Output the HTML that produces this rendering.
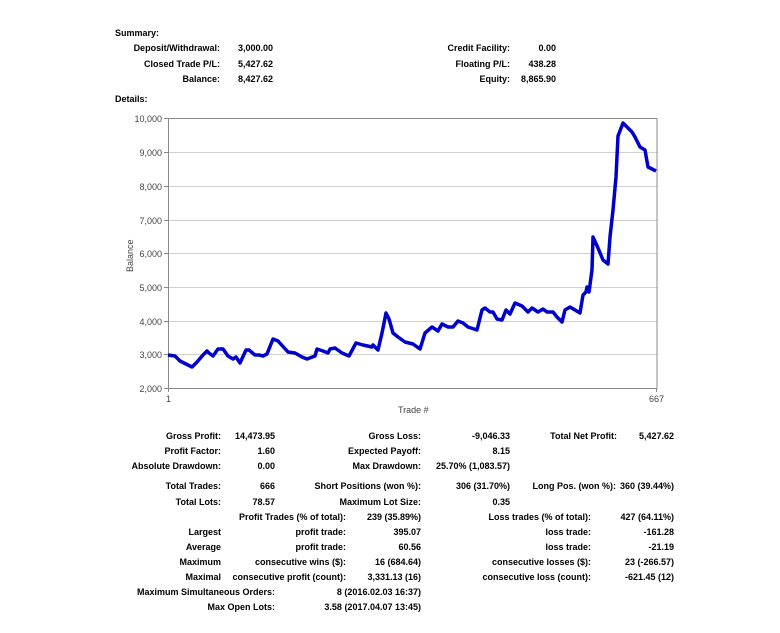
<!DOCTYPE html>
<html><head><meta charset="utf-8"><style>
body{margin:0;width:780px;height:633px;background:#fff;position:relative;overflow:hidden;font-family:"Liberation Sans",Arial,sans-serif;font-weight:bold;font-size:9px;color:#000}
.t{position:absolute;white-space:nowrap;line-height:12px}
.r{transform:translateX(-100%)}
svg text{font-weight:normal}
</style></head><body>
<div class="t" style="left:115px;top:27px">Summary:</div>
<div class="t r" style="left:220px;top:42px">Deposit/Withdrawal:</div>
<div class="t" style="left:238px;top:42px">3,000.00</div>
<div class="t r" style="left:220px;top:58px">Closed Trade P/L:</div>
<div class="t" style="left:238px;top:58px">5,427.62</div>
<div class="t r" style="left:220px;top:73px">Balance:</div>
<div class="t" style="left:238px;top:73px">8,427.62</div>
<div class="t r" style="left:510px;top:42px">Credit Facility:</div>
<div class="t r" style="left:556px;top:42px">0.00</div>
<div class="t r" style="left:510px;top:58px">Floating P/L:</div>
<div class="t r" style="left:556px;top:58px">438.28</div>
<div class="t r" style="left:510px;top:73px">Equity:</div>
<div class="t r" style="left:556px;top:73px">8,865.90</div>
<div class="t" style="left:115px;top:93px">Details:</div>

<svg style="position:absolute;left:0;top:0" width="780" height="633">
<g stroke="#d0d0d0" stroke-width="1">
<line x1="168" x2="657" y1="152.5" y2="152.5"/><line x1="168" x2="657" y1="186.5" y2="186.5"/>
<line x1="168" x2="657" y1="220.5" y2="220.5"/><line x1="168" x2="657" y1="253.5" y2="253.5"/>
<line x1="168" x2="657" y1="287.5" y2="287.5"/><line x1="168" x2="657" y1="321.5" y2="321.5"/>
<line x1="168" x2="657" y1="354.5" y2="354.5"/>
</g>
<rect x="168.5" y="118.5" width="488.5" height="270" fill="none" stroke="#888"/>
<g stroke="#888"><line x1="164" x2="168" y1="118.5" y2="118.5"/><line x1="164" x2="168" y1="152.5" y2="152.5"/><line x1="164" x2="168" y1="186.5" y2="186.5"/><line x1="164" x2="168" y1="220.5" y2="220.5"/><line x1="164" x2="168" y1="253.5" y2="253.5"/><line x1="164" x2="168" y1="287.5" y2="287.5"/><line x1="164" x2="168" y1="321.5" y2="321.5"/><line x1="164" x2="168" y1="354.5" y2="354.5"/><line x1="164" x2="168" y1="388.5" y2="388.5"/>
<line x1="168.5" x2="168.5" y1="388" y2="392"/><line x1="656.5" x2="656.5" y1="388" y2="392"/></g>
<g font-family="Liberation Sans,Arial,sans-serif" font-size="9" fill="#444" text-anchor="end">
<text x="162" y="122">10,000</text><text x="162" y="156">9,000</text><text x="162" y="190">8,000</text><text x="162" y="224">7,000</text><text x="162" y="257">6,000</text><text x="162" y="291">5,000</text><text x="162" y="325">4,000</text><text x="162" y="358">3,000</text><text x="162" y="392">2,000</text>
</g>
<g font-family="Liberation Sans,Arial,sans-serif" font-size="9" fill="#444">
<text x="166" y="402">1</text><text x="649" y="402">667</text>
<text x="398" y="413">Trade #</text>
<text transform="translate(133,272) rotate(-90)">Balance</text>
</g>
<polyline fill="none" stroke="#0000cc" stroke-width="3.5" stroke-linejoin="round" points="168,355 175,356 180,361 192,367 197,362 203,355 207,351 209,353 213,356 218,349 223,349 228,356 233,359 236,357 240,363 246,350 249,350 255,355 259,355 263,356 267,354 273,339 278,341 288,352 295,353 302,357 307,359 315,356 317,349 323,351 328,353 330,349 335,348 342,353 349,356 356,343 363,345 372,347 373,345 378,350 382,333 386,313 389,319 393,333 398,337 405,342 413,344 420,349 425,333 432,327 438,331 442,324 448,327 453,327 458,321 463,323 468,327 477,330 482,310 485,308 490,312 493,312 497,319 502,320 506,310 510,314 515,303 522,306 528,312 532,308 538,312 543,309 547,312 553,312 557,317 562,322 565,310 570,307 575,310 580,313 583,295 586,292 587,287 589,292 592,270 593,237 598,248 603,260 608,264 610,237 613,210 616,177 618,136 623,123 627,127 632,132 635,137 640,147 645,150 648,167 656,171"/>
</svg>

<div class="t r" style="left:221px;top:430px">Gross Profit:</div>
<div class="t r" style="left:275px;top:430px">14,473.95</div>
<div class="t r" style="left:421px;top:430px">Gross Loss:</div>
<div class="t r" style="left:510px;top:430px">-9,046.33</div>
<div class="t r" style="left:617px;top:430px">Total Net Profit:</div>
<div class="t r" style="left:674px;top:430px">5,427.62</div>

<div class="t r" style="left:221px;top:445px">Profit Factor:</div>
<div class="t r" style="left:275px;top:445px">1.60</div>
<div class="t r" style="left:421px;top:445px">Expected Payoff:</div>
<div class="t r" style="left:510px;top:445px">8.15</div>

<div class="t r" style="left:221px;top:460px">Absolute Drawdown:</div>
<div class="t r" style="left:275px;top:460px">0.00</div>
<div class="t r" style="left:421px;top:460px">Max Drawdown:</div>
<div class="t r" style="left:510px;top:460px">25.70% (1,083.57)</div>

<div class="t r" style="left:221px;top:480px">Total Trades:</div>
<div class="t r" style="left:275px;top:480px">666</div>
<div class="t r" style="left:421px;top:480px">Short Positions (won %):</div>
<div class="t r" style="left:510px;top:480px">306 (31.70%)</div>
<div class="t r" style="left:616px;top:480px">Long Pos. (won %):</div>
<div class="t r" style="left:674px;top:480px">360 (39.44%)</div>

<div class="t r" style="left:221px;top:496px">Total Lots:</div>
<div class="t r" style="left:275px;top:496px">78.57</div>
<div class="t r" style="left:421px;top:496px">Maximum Lot Size:</div>
<div class="t r" style="left:510px;top:496px">0.35</div>

<div class="t r" style="left:346px;top:511px">Profit Trades (% of total):</div>
<div class="t r" style="left:421px;top:511px">239 (35.89%)</div>
<div class="t r" style="left:591px;top:511px">Loss trades (% of total):</div>
<div class="t r" style="left:674px;top:511px">427 (64.11%)</div>

<div class="t r" style="left:221px;top:526px">Largest</div>
<div class="t r" style="left:346px;top:526px">profit trade:</div>
<div class="t r" style="left:421px;top:526px">395.07</div>
<div class="t r" style="left:591px;top:526px">loss trade:</div>
<div class="t r" style="left:674px;top:526px">-161.28</div>

<div class="t r" style="left:221px;top:541px">Average</div>
<div class="t r" style="left:346px;top:541px">profit trade:</div>
<div class="t r" style="left:421px;top:541px">60.56</div>
<div class="t r" style="left:591px;top:541px">loss trade:</div>
<div class="t r" style="left:674px;top:541px">-21.19</div>

<div class="t r" style="left:221px;top:556px">Maximum</div>
<div class="t r" style="left:346px;top:556px">consecutive wins ($):</div>
<div class="t r" style="left:421px;top:556px">16 (684.64)</div>
<div class="t r" style="left:591px;top:556px">consecutive losses ($):</div>
<div class="t r" style="left:674px;top:556px">23 (-266.57)</div>

<div class="t r" style="left:221px;top:571px">Maximal</div>
<div class="t r" style="left:346px;top:571px">consecutive profit (count):</div>
<div class="t r" style="left:421px;top:571px">3,331.13 (16)</div>
<div class="t r" style="left:591px;top:571px">consecutive loss (count):</div>
<div class="t r" style="left:674px;top:571px">-621.45 (12)</div>

<div class="t r" style="left:275px;top:586px">Maximum Simultaneous Orders:</div>
<div class="t r" style="left:421px;top:586px">8 (2016.02.03 16:37)</div>

<div class="t r" style="left:275px;top:601px">Max Open Lots:</div>
<div class="t r" style="left:421px;top:601px">3.58 (2017.04.07 13:45)</div>
</body></html>
